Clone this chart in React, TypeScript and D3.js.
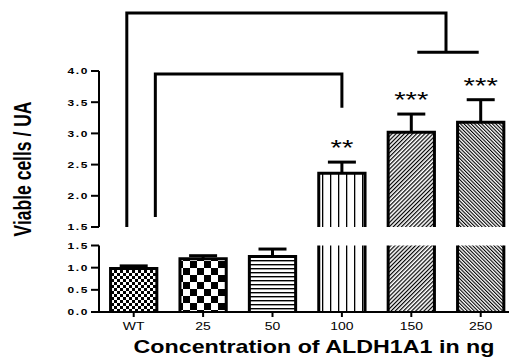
import React from "react";
import * as d3 from "d3";

/* ---- data ---- */
const categories = ["WT", "25", "50", "100", "150", "250"];
const means = [0.98, 1.2, 1.25, 2.36, 3.02, 3.18];
const errors = [0.06, 0.07, 0.17, 0.18, 0.29, 0.36];
const stars = ["", "", "", "**", "***", "***"];
const lowerTicks = [0, 0.5, 1.0, 1.5];
const upperTicks = [1.5, 2.0, 2.5, 3.0, 3.5, 4.0];
const patterns = ["fineCheck", "check", "hLines", "vLines", "diagUp", "diagDown"];

const W = 509;
const H = 363;
const SX = 1.33; // the figure is stretched horizontally
const FONT = "'Liberation Sans', Arial, sans-serif";

/* text helper that keeps the horizontal stretch */
function SText({ x, y, anchor = "middle", size, weight = "normal", spacing = 0, rotate = 0, children }: any) {
  const tf = rotate
    ? `translate(${x},${y}) rotate(${rotate}) scale(1,${SX})`
    : `translate(${x},${y}) scale(${SX},1)`;
  return (
    <text
      transform={tf}
      textAnchor={anchor}
      fontSize={size}
      fontWeight={weight}
      letterSpacing={spacing}
      fontFamily={FONT}
      fill="#000"
    >
      {children}
    </text>
  );
}

export default function App() {
  /* ---- scales ---- */
  const x = d3
    .scaleBand()
    .domain(categories)
    .range([99, 515.4])
    .paddingInner(0.29)
    .paddingOuter(0.145);
  const bw = x.bandwidth();
  const yLow = d3.scaleLinear().domain([0, 1.5]).range([312, 245.5]);
  const yHigh = d3.scaleLinear().domain([1.5, 4]).range([227, 71]);
  const yv = (v: number) => (v <= 1.5 ? yLow(v) : yHigh(v));
  const cx = (c: string) => (x(c) as number) + bw / 2;

  const base = yLow(0);
  const lowTop = yLow(1.5);
  const highBottom = yHigh(1.5);

  /* ---- brackets (significance) ---- */
  const bigLeft = (x("WT") as number) + bw * 0.36;
  const bigRight = (cx("150") + cx("250")) / 2;
  const smallLeft = (x("WT") as number) + bw - 3;
  const smallRight = cx("100");

  return (
    <svg
      width={W}
      height={H}
      style={{ position: "fixed", left: 0, top: 0, background: "#fff" }}
    >
      <defs>
        <pattern id="fineCheck" width={6} height={6} patternUnits="userSpaceOnUse">
          <rect width={6} height={6} fill="#fff" />
          <rect width={3} height={3} fill="#000" />
          <rect x={3} y={3} width={3} height={3} fill="#000" />
        </pattern>
        <pattern id="check" width={14} height={14} patternUnits="userSpaceOnUse" x={1} y={2}>
          <rect width={14} height={14} fill="#fff" />
          <rect width={7} height={7} fill="#000" />
          <rect x={7} y={7} width={7} height={7} fill="#000" />
        </pattern>
        <pattern id="hLines" width={4} height={4} patternUnits="userSpaceOnUse">
          <rect width={4} height={4} fill="#fff" />
          <rect width={4} height={1.4} fill="#000" />
        </pattern>
        <pattern id="vLines" width={8} height={8} patternUnits="userSpaceOnUse" x={2}>
          <rect width={8} height={8} fill="#fff" />
          <rect width={1.3} height={8} fill="#000" />
        </pattern>
        <pattern id="diagUp" width={2.9} height={10} patternUnits="userSpaceOnUse" patternTransform="rotate(45)">
          <rect width={2.9} height={10} fill="#fff" />
          <rect width={1.2} height={10} fill="#000" />
        </pattern>
        <pattern id="diagDown" width={2.5} height={10} patternUnits="userSpaceOnUse" patternTransform="rotate(-45)">
          <rect width={2.5} height={10} fill="#fff" />
          <rect width={1.1} height={10} fill="#000" />
        </pattern>
      </defs>

      {/* ---- bars ---- */}
      {categories.map((c, i) => {
        const v = means[i];
        const bx = (x(c) as number) + 1.5;
        const w = bw - 3;
        const tall = v > 1.5;
        const lt = yLow(Math.min(v, 1.5));
        const errTop = yv(v + errors[i]);
        const mid = cx(c);
        return (
          <g key={c}>
            {/* error bar */}
            <path d={`M${mid},${yv(v)}V${errTop}`} stroke="#000" strokeWidth={3} />
            <path d={`M${mid - 14},${errTop}H${mid + 14}`} stroke="#000" strokeWidth={3} />
            {/* lower segment */}
            <rect x={bx} y={lt} width={w} height={base - lt} fill={`url(#${patterns[i]})`} />
            <path
              d={tall ? `M${bx},${base}V${lowTop}M${bx + w},${lowTop}V${base}` : `M${bx},${base}V${lt}H${bx + w}V${base}`}
              fill="none"
              stroke="#000"
              strokeWidth={3}
            />
            {/* upper segment */}
            {tall && (
              <>
                <rect x={bx} y={yHigh(v)} width={w} height={highBottom - yHigh(v)} fill={`url(#${patterns[i]})`} />
                <path
                  d={`M${bx},${highBottom}V${yHigh(v)}H${bx + w}V${highBottom}`}
                  fill="none"
                  stroke="#000"
                  strokeWidth={3}
                />
              </>
            )}
            {stars[i] && (
              <SText x={mid} y={errTop - 7} size={22}>
                {stars[i]}
              </SText>
            )}
          </g>
        );
      })}

      {/* ---- brackets ---- */}
      <path
        d={`M${bigLeft},${yHigh(1.5)}V${yHigh(4.93)}H${bigRight}V${yHigh(4.3)}M${cx("150") + 6},${yHigh(4.3)}H${cx("250") - 2}`}
        fill="none"
        stroke="#000"
        strokeWidth={3}
      />
      <path
        d={`M${smallLeft},${yHigh(1.66)}V${yHigh(3.95)}H${smallRight}V${yHigh(3.41)}`}
        fill="none"
        stroke="#000"
        strokeWidth={3}
      />

      {/* ---- y axis (broken) ---- */}
      <g stroke="#000" strokeWidth={2} fill="none">
        <path d={`M99,${yHigh(4)}V${yHigh(1.5)}`} />
        <path d={`M99,${yLow(1.5)}V${base + 1}`} />
        {upperTicks.map((t) => (
          <path key={"u" + t} d={`M91,${yHigh(t)}H99`} />
        ))}
        {lowerTicks.map((t) => (
          <path key={"l" + t} d={`M91,${yLow(t)}H99`} />
        ))}
      </g>
      {upperTicks.map((t) => (
        <SText key={"ut" + t} x={89} y={yHigh(t) + 3.3} anchor="end" size={9} weight="bold" spacing={1.2}>
          {t.toFixed(1)}
        </SText>
      ))}
      {lowerTicks.map((t) => (
        <SText key={"lt" + t} x={89} y={yLow(t) + 3.3} anchor="end" size={9} weight="bold" spacing={1.2}>
          {t.toFixed(1)}
        </SText>
      ))}

      {/* ---- x axis ---- */}
      <g stroke="#000" strokeWidth={2} fill="none">
        <path d={`M98,${base}H${W}`} />
        {categories.map((c) => (
          <path key={"xt" + c} d={`M${cx(c)},${base}V${base + 5}`} />
        ))}
      </g>
      {categories.map((c) => (
        <SText key={"xl" + c} x={cx(c)} y={329.5} size={10.5}>
          {c}
        </SText>
      ))}

      {/* ---- titles ---- */}
      <SText x={314} y={353} size={17.5} weight="bold">
        Concentration of ALDH1A1 in ng
      </SText>
      <SText x={31} y={169} size={17.5} weight="bold" rotate={-90}>
        Viable cells / UA
      </SText>
    </svg>
  );
}
